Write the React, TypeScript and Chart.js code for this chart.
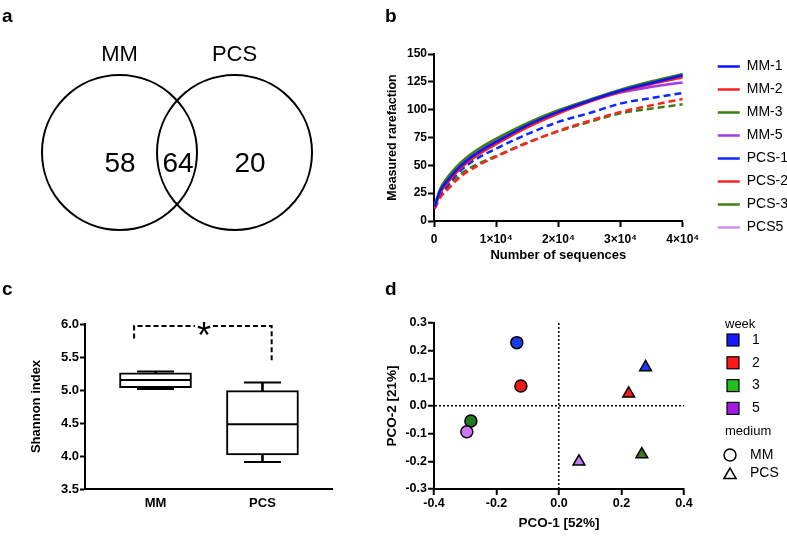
import React, { useEffect, useRef } from 'react';
import { Chart, registerables } from 'chart.js';

Chart.register(...registerables);

const FONT = "'Liberation Sans', Arial, Helvetica, sans-serif";
Chart.defaults.font.family = FONT;
Chart.defaults.color = '#000';

// ---------------- Panel a : Venn ----------------
const vennSetNames = ['MM', 'PCS'];
const vennCounts = [58, 64, 20]; // MM only, shared, PCS only

// ---------------- Panel b : rarefaction ----------------
const rareX = [100, 1000, 2000, 3500, 5000, 7500, 10000, 15000, 20000, 25000, 30000, 35000, 40000];
const rareNames = ['MM-1', 'MM-2', 'MM-3', 'MM-5', 'PCS-1', 'PCS-2', 'PCS-3', 'PCS5'];
const rareMM1 = [13, 27, 35, 45, 53, 63, 71, 86, 98, 108, 117, 124, 131];
const rareMM2 = [12, 25, 33, 43, 51, 61, 69, 84, 96.5, 107, 116, 123, 129];
const rareMM3 = [14, 29, 38, 48, 56, 66, 74, 88, 99.5, 109, 118, 125.5, 132];
const rareMM5 = [13, 28, 37, 47, 55, 65, 72.8, 87, 99, 108, 115.5, 120.5, 124.5];
const rarePCS1 = [12, 24, 31, 41, 48.8, 58, 65, 78, 89, 97, 105.5, 110.5, 115];
const rarePCS2 = [11, 21, 27, 36, 42.8, 51, 57.8, 70, 81, 90, 98, 104, 109.6];
const rarePCS3 = [11, 22, 28.5, 38, 45, 52.5, 58.4, 70.5, 80.5, 89, 96.7, 101, 104.8];
const rarePCS5 = [13, 27.5, 36, 46, 54, 64, 72, 86.5, 98.5, 108, 116, 123, 129.5];
const rareXTicks = [0, 10000, 20000, 30000, 40000];
const rareXTickLabels = ['0', '1×10⁴', '2×10⁴', '3×10⁴', '4×10⁴'];

// ---------------- Panel c : Shannon box plot ----------------
const boxCategories = ['MM', 'PCS'];
const boxMin = [5.015, 3.91];
const boxQ1 = [5.035, 4.015];
const boxMedian = [5.15, 4.48];
const boxQ3 = [5.26, 4.99];
const boxMax = [5.28, 5.115];
const sigLabel = '*';
const sigBracketX = [0.8, 2.086];
const sigBracketLegBottom = [5.78, 5.44];
const sigBracketTop = 5.97;
const sigGap = [1.369, 1.537];
const sigStarX = 1.453;

// ---------------- Panel d : PCO ----------------
const pcoWeeks = ['1', '2', '3', '5'];
const pcoMedia = ['MM', 'PCS'];
const pcoMMx = [-0.135, -0.122, -0.282, -0.295];
const pcoMMy = [0.229, 0.072, -0.054, -0.093];
const pcoPCSx = [0.277, 0.223, 0.265, 0.064];
const pcoPCSy = [0.14, 0.045, -0.175, -0.201];

// ---------------- styles ----------------
const rareColors = ['#0a14ff', '#ff1e1e', '#3c7f14', '#a23ce6', '#0a28ff', '#ff2424', '#3c7f14', '#d08cf5'];
const mmColors = ['#1a3cf0', '#f01a1a', '#1e7a1e', '#cc77f5'];
const pcsColors = ['#1a3cf0', '#f01a1a', '#3d7a1e', '#c47af0'];
const weekLegendColors = ['#1a1aff', '#ff1a1a', '#1fbf1f', '#a31ae6'];

const vennGeom = {
  centerX: [0, 1.484],
  centerY: [0, 0],
  radius: 1,
  nameBaseline: 1.185,
  countX: [0.006, 0.755, 1.684],
  countBaseline: -0.248,
};

const axisTitle = (text: string, size: number, padding: any) => ({
  display: true,
  text,
  color: '#000',
  font: { size, weight: 'bold' },
  padding,
});

const vennPlugin = {
  id: 'vennLabels',
  afterDatasetsDraw(chart: any) {
    const { ctx } = chart;
    const x = chart.scales.x;
    const y = chart.scales.y;
    ctx.save();
    ctx.fillStyle = '#000';
    ctx.textAlign = 'center';
    ctx.textBaseline = 'alphabetic';
    ctx.font = `22px ${FONT}`;
    vennSetNames.forEach((n, i) => {
      ctx.fillText(
        n,
        x.getPixelForValue(vennGeom.centerX[i]),
        y.getPixelForValue(vennGeom.centerY[i] + vennGeom.nameBaseline * vennGeom.radius)
      );
    });
    ctx.font = `28px ${FONT}`;
    vennCounts.forEach((c, i) => {
      ctx.fillText(String(c), x.getPixelForValue(vennGeom.countX[i]), y.getPixelForValue(vennGeom.countBaseline));
    });
    ctx.restore();
  },
};

const sigPlugin = {
  id: 'sigStar',
  afterDatasetsDraw(chart: any) {
    const { ctx } = chart;
    const px = chart.scales.x.getPixelForValue(sigStarX);
    const py = chart.scales.y.getPixelForValue(sigBracketTop);
    const size = 36;
    ctx.save();
    ctx.fillStyle = '#000';
    ctx.font = `${size}px ${FONT}`;
    ctx.textAlign = 'center';
    ctx.textBaseline = 'alphabetic';
    ctx.fillText(sigLabel, px, py + 0.6 * size);
    ctx.restore();
  },
};

const pcoLegendPlugin = {
  id: 'pcoLegend',
  afterDraw(chart: any) {
    const { ctx, chartArea } = chart;
    const R = chartArea.right;
    const T = chartArea.top;
    ctx.save();
    ctx.fillStyle = '#000';
    ctx.textBaseline = 'middle';
    ctx.textAlign = 'left';
    ctx.font = `13px ${FONT}`;
    ctx.fillText('week', R + 41, T + 1);
    pcoWeeks.forEach((w, i) => {
      const cy = T + 17 + i * 22.8;
      ctx.fillStyle = weekLegendColors[i];
      ctx.fillRect(R + 43, cy - 6, 12, 12);
      ctx.strokeStyle = '#000';
      ctx.lineWidth = 1.2;
      ctx.strokeRect(R + 43, cy - 6, 12, 12);
      ctx.fillStyle = '#000';
      ctx.font = `14px ${FONT}`;
      ctx.fillText(w, R + 68, cy);
    });
    ctx.font = `13px ${FONT}`;
    ctx.fillText('medium', R + 41, T + 108.5);
    ctx.lineWidth = 1.5;
    ctx.strokeStyle = '#000';
    ctx.beginPath();
    ctx.arc(R + 46, T + 132, 6, 0, Math.PI * 2);
    ctx.stroke();
    const tx = R + 46;
    const ty = T + 152;
    const r = 7;
    ctx.beginPath();
    for (let k = 0; k < 3; k++) {
      const a = (k * 2 * Math.PI) / 3;
      const px = tx + Math.sin(a) * r;
      const py = ty - Math.cos(a) * r;
      if (k === 0) ctx.moveTo(px, py);
      else ctx.lineTo(px, py);
    }
    ctx.closePath();
    ctx.stroke();
    ctx.font = `14px ${FONT}`;
    ctx.fillText(pcoMedia[0], R + 66, T + 132);
    ctx.fillText(pcoMedia[1], R + 66, T + 150);
    ctx.restore();
  },
};

function makeVenn() {
  return {
    type: 'scatter',
    data: {
      datasets: [
        {
          data: vennGeom.centerX.map((x, i) => ({ x, y: vennGeom.centerY[i] })),
          pointRadius: (c: any) => {
            const s = c.chart.scales.x;
            return Math.abs(s.getPixelForValue(vennGeom.radius) - s.getPixelForValue(0));
          },
          pointBackgroundColor: 'rgba(0,0,0,0)',
          pointBorderColor: '#000',
          pointBorderWidth: 2,
          clip: false,
        },
      ],
    },
    options: {
      responsive: false,
      animation: false,
      events: [],
      layout: { padding: 0 },
      plugins: { legend: { display: false }, tooltip: { enabled: false } },
      scales: {
        x: { type: 'linear', display: false, min: -1.542, max: 3.4 },
        y: { type: 'linear', display: false, min: -1.413, max: 1.968 },
      },
    },
    plugins: [vennPlugin],
  };
}

function makeRare() {
  const series = [rareMM1, rareMM2, rareMM3, rareMM5, rarePCS1, rarePCS2, rarePCS3, rarePCS5];
  return {
    type: 'line',
    data: {
      datasets: series.map((s, i) => ({
        label: rareNames[i],
        data: rareX.map((x, j) => ({ x, y: s[j] })),
        borderColor: rareColors[i],
        backgroundColor: rareColors[i],
        borderWidth: 2.5,
        borderDash: i >= 4 ? [7, 4] : [],
        pointRadius: 0,
        cubicInterpolationMode: 'monotone',
        fill: false,
        order: i === 7 ? 1 : 0,
        xAxisID: 'x',
        yAxisID: 'y',
      })),
    },
    options: {
      responsive: false,
      animation: false,
      events: [],
      layout: { padding: 0 },
      plugins: {
        tooltip: { enabled: false },
        legend: {
          position: 'right',
          maxWidth: 130,
          labels: {
            usePointStyle: true,
            pointStyle: 'line',
            pointStyleWidth: 22,
            padding: 9,
            color: '#000',
            font: { size: 14 },
            sort: (a: any, b: any) => a.datasetIndex - b.datasetIndex,
          },
        },
      },
      scales: {
        x: {
          type: 'linear',
          min: 0,
          max: 40000,
          afterBuildTicks: (ax: any) => {
            ax.ticks = rareXTicks.map((v) => ({ value: v }));
          },
          ticks: {
            callback: (_v: any, i: number) => rareXTickLabels[i],
            font: { size: 12, weight: 'bold' },
            color: '#000',
            padding: 5,
            maxRotation: 0,
            autoSkip: false,
          },
          grid: { drawOnChartArea: false, drawTicks: true, tickLength: 6, tickWidth: 2, tickColor: '#000' },
          border: { display: true, color: '#000', width: 2 },
          title: axisTitle('Number of sequences', 13, { top: 0, bottom: 1 }),
          afterFit: (s: any) => {
            s.height = 43;
          },
        },
        y: {
          type: 'linear',
          min: 0,
          max: 150,
          ticks: { stepSize: 25, font: { size: 12, weight: 'bold' }, color: '#000', padding: 1 },
          grid: { drawOnChartArea: false, drawTicks: true, tickLength: 6, tickWidth: 2, tickColor: '#000' },
          border: { display: true, color: '#000', width: 2 },
          title: axisTitle('Measured rarefaction', 12.5, { top: 2, bottom: 0 }),
          afterFit: (s: any) => {
            s.width = 51;
          },
        },
        x2: {
          type: 'linear',
          position: 'top',
          display: true,
          grid: { display: false },
          ticks: { display: false },
          border: { display: false },
          afterFit: (s: any) => {
            s.height = 24;
          },
        },
        y2: {
          type: 'linear',
          position: 'right',
          display: true,
          grid: { display: false },
          ticks: { display: false },
          border: { display: false },
          afterFit: (s: any) => {
            s.width = 26;
          },
        },
      },
    },
  };
}

function makeBox() {
  const xs = boxCategories.map((_, i) => i + 1);
  return {
    type: 'bar',
    data: {
      datasets: [
        {
          type: 'line',
          data: xs.map((x, i) => ({ x, y: boxMedian[i] })),
          showLine: false,
          pointStyle: 'line',
          pointRadius: 35,
          pointBorderWidth: 2,
          pointBorderColor: '#000',
          order: 0,
        },
        {
          type: 'line',
          data: [...xs.map((x, i) => ({ x, y: boxMax[i] })), ...xs.map((x, i) => ({ x, y: boxMin[i] }))],
          showLine: false,
          pointStyle: 'line',
          pointRadius: 18.5,
          pointBorderWidth: 2,
          pointBorderColor: '#000',
          order: 1,
        },
        {
          type: 'line',
          data: [
            { x: sigBracketX[0], y: sigBracketLegBottom[0] },
            { x: sigBracketX[0], y: sigBracketTop },
            { x: sigGap[0], y: sigBracketTop },
          ],
          borderColor: '#000',
          borderWidth: 2,
          borderDash: [5, 3],
          pointRadius: 0,
          tension: 0,
          fill: false,
          order: 2,
        },
        {
          type: 'line',
          data: [
            { x: sigGap[1], y: sigBracketTop },
            { x: sigBracketX[1], y: sigBracketTop },
            { x: sigBracketX[1], y: sigBracketLegBottom[1] },
          ],
          borderColor: '#000',
          borderWidth: 2,
          borderDash: [5, 3],
          pointRadius: 0,
          tension: 0,
          fill: false,
          order: 3,
        },
        {
          type: 'bar',
          data: xs.map((x, i) => ({ x, y: [boxQ3[i], boxMax[i]] })),
          backgroundColor: '#000',
          borderWidth: 0,
          barThickness: 2,
          grouped: false,
          order: 4,
        },
        {
          type: 'bar',
          data: xs.map((x, i) => ({ x, y: [boxMin[i], boxQ1[i]] })),
          backgroundColor: '#000',
          borderWidth: 0,
          barThickness: 2,
          grouped: false,
          order: 5,
        },
        {
          type: 'bar',
          data: xs.map((x, i) => ({ x, y: [boxQ1[i], boxQ3[i]] })),
          backgroundColor: '#fff',
          borderColor: '#000',
          borderWidth: 2,
          borderSkipped: false,
          barThickness: 72,
          grouped: false,
          order: 6,
        },
      ],
    },
    options: {
      responsive: false,
      animation: false,
      events: [],
      layout: { padding: { top: 54, right: 51, left: 0, bottom: 0 } },
      plugins: { legend: { display: false }, tooltip: { enabled: false } },
      scales: {
        x: {
          type: 'linear',
          min: 0.341,
          max: 2.65,
          offset: false,
          afterBuildTicks: (ax: any) => {
            ax.ticks = xs.map((v) => ({ value: v }));
          },
          ticks: {
            callback: (v: any) => boxCategories[Math.round(v) - 1] ?? '',
            font: { size: 13, weight: 'bold' },
            color: '#000',
            padding: 6.5,
            autoSkip: false,
            maxRotation: 0,
          },
          grid: { offset: false, drawOnChartArea: false, drawTicks: false },
          border: { display: true, color: '#000', width: 2 },
          afterFit: (s: any) => {
            s.height = 48;
          },
        },
        y: {
          type: 'linear',
          min: 3.5,
          max: 6.0,
          beginAtZero: false,
          ticks: {
            stepSize: 0.5,
            callback: (v: any) => Number(v).toFixed(1),
            font: { size: 13, weight: 'bold' },
            color: '#000',
            padding: 1,
          },
          grid: { drawOnChartArea: false, drawTicks: true, tickLength: 5, tickWidth: 2, tickColor: '#000' },
          border: { display: true, color: '#000', width: 2 },
          title: axisTitle('Shannon index', 13, { top: 29, bottom: 0 }),
          afterFit: (s: any) => {
            s.width = 85;
          },
        },
      },
    },
    plugins: [sigPlugin],
  };
}

function makePco() {
  const zeroGrid = (c: any) => (c.tick && Math.abs(c.tick.value) < 1e-9 ? '#000' : 'rgba(0,0,0,0)');
  const fmt = (v: any) => (Math.abs(Number(v)) < 1e-9 ? 0 : Number(v)).toFixed(1);
  return {
    type: 'scatter',
    data: {
      datasets: [
        {
          label: pcoMedia[0],
          data: pcoMMx.map((x, i) => ({ x, y: pcoMMy[i] })),
          pointStyle: 'circle',
          pointRadius: 6,
          pointBackgroundColor: mmColors,
          pointBorderColor: '#000',
          pointBorderWidth: 1.5,
        },
        {
          label: pcoMedia[1],
          data: pcoPCSx.map((x, i) => ({ x, y: pcoPCSy[i] })),
          pointStyle: 'triangle',
          pointRadius: 6.8,
          pointBackgroundColor: pcsColors,
          pointBorderColor: '#000',
          pointBorderWidth: 1.5,
        },
      ],
    },
    options: {
      responsive: false,
      animation: false,
      events: [],
      layout: { padding: { top: 53, right: 103, left: 0, bottom: 0 } },
      plugins: { legend: { display: false }, tooltip: { enabled: false } },
      scales: {
        x: {
          type: 'linear',
          min: -0.4,
          max: 0.4,
          ticks: { stepSize: 0.2, callback: fmt, font: { size: 12.5, weight: 'bold' }, color: '#000', padding: 1, maxRotation: 0 },
          grid: { drawOnChartArea: true, color: zeroGrid, lineWidth: 1.5, drawTicks: true, tickLength: 6, tickWidth: 2, tickColor: '#000' },
          border: { display: true, color: '#000', width: 2, dash: [2, 2] },
          title: axisTitle('PCO-1 [52%]', 13.5, { top: 0, bottom: 6 }),
          afterFit: (s: any) => {
            s.height = 48;
          },
        },
        y: {
          type: 'linear',
          min: -0.3,
          max: 0.3,
          ticks: { stepSize: 0.1, callback: fmt, font: { size: 12.5, weight: 'bold' }, color: '#000', padding: 1 },
          grid: { drawOnChartArea: true, color: zeroGrid, lineWidth: 1.5, drawTicks: true, tickLength: 6, tickWidth: 2, tickColor: '#000' },
          border: { display: true, color: '#000', width: 2, dash: [2, 2] },
          title: axisTitle('PCO-2 [21%]', 13.5, { top: 1, bottom: 0 }),
          afterFit: (s: any) => {
            s.width = 51;
          },
        },
      },
    },
    plugins: [pcoLegendPlugin],
  };
}

function Panel(props: { make: () => any; left: number; top: number; width: number; height: number; viewWidth?: number }) {
  const ref = useRef<HTMLCanvasElement | null>(null);
  useEffect(() => {
    if (!ref.current) return;
    const chart = new Chart(ref.current, props.make());
    return () => chart.destroy();
  }, []);
  const { left, top, width, height, viewWidth } = props;
  return (
    <div style={{ position: 'absolute', left, top, width: viewWidth ?? width, height, overflow: 'hidden' }}>
      <canvas ref={ref} width={width} height={height} style={{ display: 'block', width, height }} />
    </div>
  );
}

const letterStyle = (left: number, top: number): React.CSSProperties => ({
  position: 'absolute',
  left,
  top,
  fontFamily: FONT,
  fontWeight: 'bold',
  fontSize: 19,
  lineHeight: '19px',
  color: '#000',
});

export default function App() {
  return (
    <div
      style={{
        position: 'absolute',
        left: 0,
        top: 0,
        width: 787,
        height: 537,
        background: '#fff',
        overflow: 'hidden',
        fontFamily: FONT,
      }}
    >
      <Panel make={makeVenn} left={0} top={0} width={383} height={262} />
      <Panel make={makeRare} left={383} top={30} width={415} height={234} viewWidth={404} />
      <Panel make={makeBox} left={0} top={270} width={383} height={267} />
      <Panel make={makePco} left={383} top={270} width={404} height={267} />
      <div style={letterStyle(2, 6)}>a</div>
      <div style={letterStyle(385, 6)}>b</div>
      <div style={letterStyle(2, 279)}>c</div>
      <div style={letterStyle(385, 279)}>d</div>
    </div>
  );
}
